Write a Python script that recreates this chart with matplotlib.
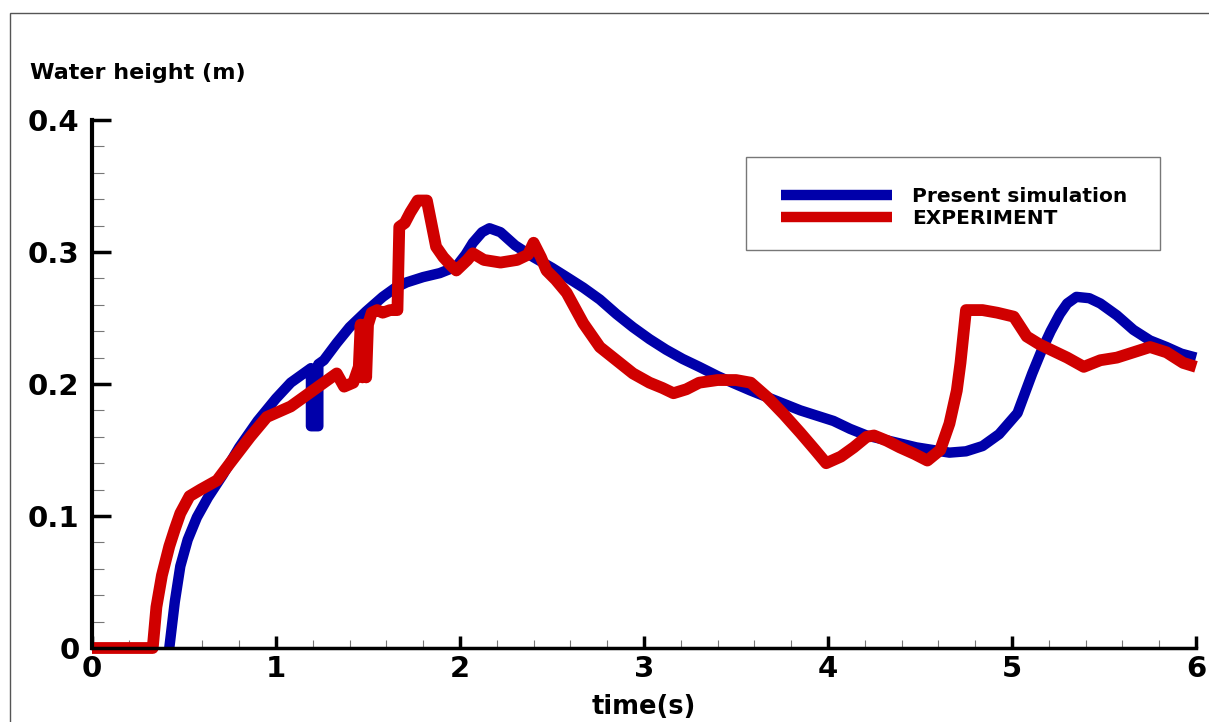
import matplotlib
matplotlib.use("Agg")
import matplotlib.pyplot as plt
from matplotlib.patches import Rectangle
from matplotlib.ticker import MultipleLocator

plt.rcParams['font.family'] = 'DejaVu Sans'
plt.rcParams['font.weight'] = 'bold'

# simulation curve
sim_t = [0.42, 0.45, 0.48, 0.52, 0.57, 0.63, 0.71, 0.80, 0.90, 1.00,
         1.08, 1.14, 1.19, 1.19, 1.23, 1.23, 1.26, 1.33, 1.40, 1.49,
         1.58, 1.65, 1.71, 1.80, 1.89, 1.98, 2.03, 2.07, 2.12, 2.16,
         2.22, 2.30, 2.40, 2.50, 2.58, 2.67, 2.76, 2.85, 2.94, 3.03,
         3.12, 3.21, 3.30, 3.40, 3.48, 3.58, 3.67, 3.76, 3.85, 3.94,
         4.03, 4.12, 4.21, 4.30, 4.39, 4.48, 4.57, 4.66, 4.75, 4.84,
         4.93, 5.03, 5.11, 5.16, 5.21, 5.26, 5.30, 5.35, 5.42, 5.48,
         5.57, 5.66, 5.75, 5.84, 5.92, 6.00]
sim_h = [0.0, 0.035, 0.062, 0.082, 0.099, 0.114, 0.131, 0.152, 0.172, 0.189,
         0.201, 0.207, 0.212, 0.168, 0.168, 0.215, 0.218, 0.231, 0.243, 0.255,
         0.266, 0.273, 0.277, 0.281, 0.284, 0.289, 0.298, 0.307, 0.315, 0.318,
         0.315, 0.305, 0.296, 0.288, 0.281, 0.273, 0.264, 0.253, 0.243, 0.234,
         0.226, 0.219, 0.213, 0.206, 0.201, 0.195, 0.190, 0.185, 0.180, 0.176,
         0.172, 0.166, 0.161, 0.158, 0.155, 0.152, 0.150, 0.148, 0.149, 0.153,
         0.162, 0.178, 0.208, 0.225, 0.240, 0.253, 0.261, 0.266, 0.265, 0.261,
         0.252, 0.241, 0.233, 0.228, 0.223, 0.220]

# experiment curve
exp_t = [0.0, 0.33, 0.35, 0.38, 0.42, 0.45, 0.48, 0.53, 0.59, 0.68,
         0.75, 0.86, 0.95, 1.08, 1.18, 1.26, 1.33, 1.37, 1.42, 1.45,
         1.46, 1.47, 1.48, 1.49, 1.50, 1.52, 1.55, 1.58, 1.62, 1.66,
         1.67, 1.70, 1.73, 1.77, 1.82, 1.87, 1.91, 1.95, 1.98, 2.04,
         2.07, 2.13, 2.22, 2.31, 2.37, 2.40, 2.44, 2.47, 2.52, 2.58,
         2.67, 2.76, 2.85, 2.94, 3.03, 3.10, 3.16, 3.23, 3.30, 3.40,
         3.50, 3.58, 3.67, 3.76, 3.85, 3.93, 3.99, 4.07, 4.14, 4.21,
         4.25, 4.32, 4.39, 4.47, 4.54, 4.61, 4.66, 4.70, 4.72, 4.75,
         4.84, 4.92, 5.01, 5.08, 5.15, 5.21, 5.30, 5.39, 5.48, 5.57,
         5.66, 5.75, 5.84, 5.93, 6.00]
exp_h = [0.0, 0.0, 0.031, 0.055, 0.077, 0.090, 0.102, 0.115, 0.120, 0.127,
         0.140, 0.160, 0.175, 0.183, 0.193, 0.201, 0.208, 0.198, 0.201, 0.213,
         0.245, 0.205, 0.245, 0.205, 0.245, 0.254, 0.256, 0.254, 0.256, 0.256,
         0.319, 0.322, 0.330, 0.339, 0.339, 0.304, 0.296, 0.290, 0.286, 0.294,
         0.299, 0.294, 0.292, 0.294, 0.298, 0.307, 0.296, 0.286, 0.279, 0.269,
         0.246, 0.228, 0.218, 0.208, 0.201, 0.197, 0.193, 0.196, 0.201, 0.203,
         0.203, 0.201, 0.190, 0.177, 0.163, 0.150, 0.140, 0.145, 0.152, 0.160,
         0.161, 0.157, 0.152, 0.147, 0.142, 0.150, 0.170, 0.195, 0.216, 0.256,
         0.256, 0.254, 0.251, 0.236, 0.230, 0.226, 0.220, 0.213, 0.218, 0.220,
         0.224, 0.228, 0.224, 0.216, 0.213]

blue = '#0000aa'
red = '#d00000'

fig = plt.figure(figsize=(12.09, 7.22), dpi=100)
ax = fig.add_axes([92/1209, 1 - 648/722, 1104/1209, 528/722])

l1, = ax.plot(sim_t, sim_h, color=blue, lw=7.5, solid_capstyle='butt',
              label='Present simulation', clip_on=False)
l2, = ax.plot(exp_t, exp_h, color=red, lw=8.5, solid_capstyle='butt',
              label='EXPERIMENT', clip_on=False)

ax.set_xlim(0, 6)
ax.set_ylim(0, 0.4)
ax.xaxis.set_major_locator(MultipleLocator(1))
ax.xaxis.set_minor_locator(MultipleLocator(0.2))
ax.set_yticks([0, 0.1, 0.2, 0.3, 0.4])
ax.set_yticklabels(['0', '0.1', '0.2', '0.3', '0.4'])
ax.yaxis.set_minor_locator(MultipleLocator(0.02))

for s in ['top', 'right']:
    ax.spines[s].set_visible(False)
ax.spines['left'].set_linewidth(3)
ax.spines['bottom'].set_linewidth(2.5)

ax.tick_params(axis='x', which='major', direction='in', length=9, width=2.5,
               labelsize=21, pad=5)
ax.tick_params(axis='x', which='minor', direction='in', length=5.5,
               width=0.8, color='#777777')
ax.tick_params(axis='y', which='major', direction='in', length=14, width=2.5,
               labelsize=21, pad=9)
ax.tick_params(axis='y', which='minor', direction='in', length=8.5,
               width=0.8, color='#777777')
for lab in ax.get_xticklabels() + ax.get_yticklabels():
    lab.set_fontweight('bold')

ax.set_xlabel('time(s)', fontsize=18.5, fontweight='bold', labelpad=8)
fig.text(30/1209, 1 - 73/722, 'Water height (m)', fontsize=16,
         fontweight='bold', va='center', ha='left')

# legend: frame drawn separately so its box matches the original
leg = ax.legend(handles=[l1, l2], loc='upper left',
                bbox_to_anchor=(781/1209, 1 - 187/722),
                bbox_transform=fig.transFigure, frameon=False,
                prop={'size': 14.5, 'weight': 'bold'}, handlelength=5.5,
                handletextpad=1.0, labelspacing=0.13, borderpad=0,
                borderaxespad=0)
for h in leg.get_lines():
    h.set_linewidth(7.5)
fig.patches.append(Rectangle((746/1209, 1 - 250/722), 414/1209, 93/722,
                             transform=fig.transFigure, fill=False,
                             edgecolor='#777777', lw=1.0))

# outer frame
fig.patches.append(Rectangle((10/1209, -0.05), 1.2, 1 - 13/722 + 0.05,
                             transform=fig.transFigure, fill=False,
                             edgecolor='#555555', lw=1.0))

fig.savefig('out.png', dpi=100)
